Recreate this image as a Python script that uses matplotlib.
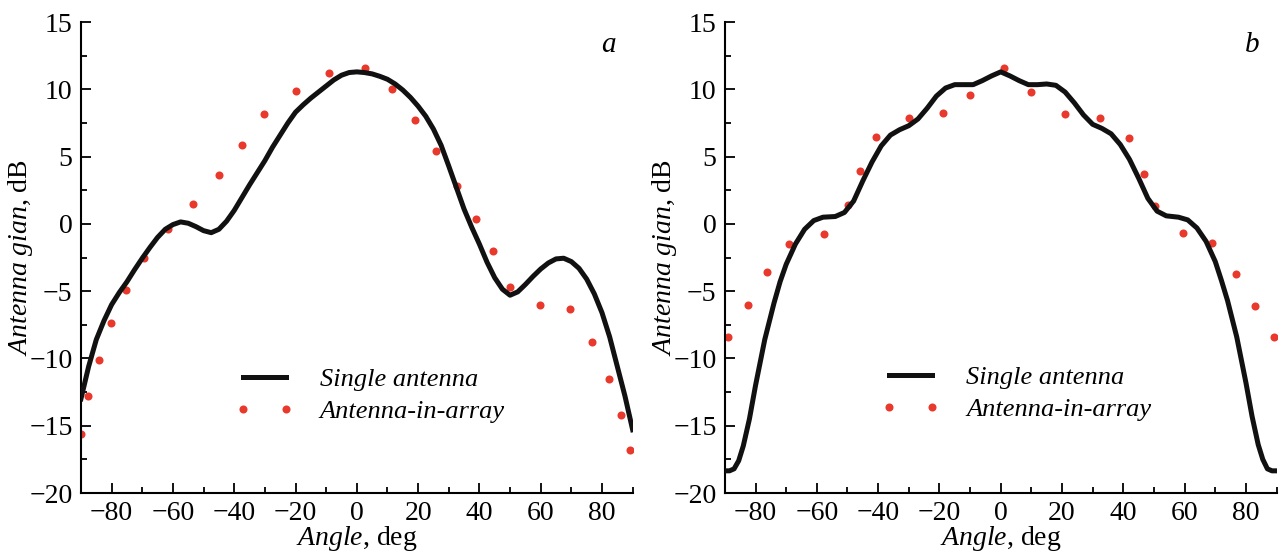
import matplotlib
matplotlib.use("Agg")
import matplotlib.pyplot as plt
from matplotlib.font_manager import FontProperties
from matplotlib.ticker import MultipleLocator

plt.rcParams["font.family"] = ["Liberation Serif", "DejaVu Serif"]
plt.rcParams["mathtext.fontset"] = "custom"
plt.rcParams["mathtext.rm"] = "Liberation Serif"
plt.rcParams["mathtext.it"] = "Liberation Serif:italic"

# panel a: single antenna (solid)
a_single_x = [-90, -87.5, -85, -82.5, -80, -77.5, -75, -72.5, -70, -67.5, -65, -62.5, -60, -57.5,
              -55, -52.5, -50, -47.5, -45, -42.5, -40, -37.5, -35, -32.5, -30, -27.5, -25, -22.5,
              -20, -17.5, -15, -12.5, -10, -7.5, -5, -2.5, 0, 2.5, 5, 7.5, 10, 12.5, 15, 17.5,
              20, 22.5, 25, 27.5, 30, 32.5, 35, 37.5, 40, 42.5, 45, 47.5, 50, 52.5, 55, 57.5,
              60, 62.5, 65, 67.5, 70, 72.5, 75, 77.5, 80, 82.5, 85, 87.5, 90]
a_single_y = [-13.0, -10.6, -8.6, -7.2, -6.0, -5.1, -4.3, -3.4, -2.55, -1.75, -1.0, -0.4, -0.05, 0.15,
              0.05, -0.2, -0.5, -0.65, -0.4, 0.2, 1.0, 1.95, 2.9, 3.8, 4.7, 5.7, 6.6, 7.5,
              8.3, 8.85, 9.35, 9.8, 10.25, 10.7, 11.05, 11.25, 11.3, 11.25, 11.15, 10.97, 10.75, 10.4, 9.95, 9.4,
              8.75, 8.0, 7.05, 5.85, 4.3, 2.7, 1.1, -0.25, -1.5, -2.85, -4.0, -4.85, -5.3, -5.05, -4.5, -3.9,
              -3.35, -2.9, -2.6, -2.55, -2.8, -3.3, -4.1, -5.2, -6.6, -8.4, -10.6, -12.8, -15.3]
# panel a: antenna in array (dots)
a_array_x = [-90, -87.8, -84.2, -80.1, -75.2, -69.3, -61.5, -53.3, -44.8, -37.4, -30.4, -19.9, -9.0, 2.6,
             11.5, 18.9, 25.8, 32.6, 38.9, 44.5, 50.0, 59.8, 69.4, 76.9, 82.2, 86.2, 89.2]
a_array_y = [-15.6, -12.8, -10.1, -7.4, -4.9, -2.5, -0.4, 1.5, 3.6, 5.9, 8.2, 9.9, 11.2, 11.6,
             10.0, 7.7, 5.4, 2.8, 0.4, -2.0, -4.7, -6.0, -6.35, -8.8, -11.5, -14.2, -16.8]

# panel b
b_single_x = [-90, -88.5, -87, -85.5, -84, -82, -80, -77, -74, -72, -70, -67, -64, -61, -58, -54,
              -51, -48, -45, -42, -39, -36, -33, -30, -27, -24, -21, -18, -15, -12, -9, -6, -3, 0,
              3, 6, 9, 12, 15, 18, 21, 24, 27, 30, 33, 36, 39, 42, 45, 48, 51, 54, 58,
              61, 64, 67, 70, 72, 74, 77, 80, 82, 84, 85.5, 87, 88.5, 90]
b_single_y = [-18.35, -18.35, -18.2, -17.6, -16.5, -14.5, -12.0, -8.6, -5.9, -4.3, -3.0, -1.5, -0.4, 0.25, 0.5, 0.55,
              0.85, 1.7, 3.2, 4.6, 5.8, 6.6, 7.0, 7.3, 7.8, 8.6, 9.5, 10.1, 10.35, 10.35, 10.35, 10.65, 11.0, 11.3,
              11.0, 10.65, 10.35, 10.35, 10.4, 10.3, 9.8, 9.0, 8.1, 7.4, 7.1, 6.7, 5.9, 4.8, 3.4, 1.9, 0.95, 0.6, 0.5,
              0.3, -0.3, -1.3, -2.8, -4.2, -5.7, -8.4, -11.8, -14.3, -16.4, -17.5, -18.2, -18.35, -18.35]
b_array_x = [-88.9, -82.4, -76.2, -69.1, -57.6, -49.8, -45.8, -40.8, -29.9, -18.8, -10.1, 1.1,
             10.0, 20.9, 32.5, 41.8, 46.7, 50.4, 59.5, 68.8, 76.8, 83.1, 89.1]
b_array_y = [-8.4, -6.0, -3.6, -1.5, -0.75, 1.4, 3.95, 6.45, 7.9, 8.25, 9.6, 11.6,
             9.8, 8.2, 7.9, 6.4, 3.7, 1.3, -0.7, -1.4, -3.7, -6.1, -8.4]

panels = [
    ("a", a_single_x, a_single_y, a_array_x, a_array_y, 0.0631, (0.28, 0.208)),
    ("b", b_single_x, b_single_y, b_array_x, b_array_y, 0.565, (0.284, 0.212)),
]

fig = plt.figure(figsize=(12.83, 5.59), dpi=100)
leg_font = FontProperties(family="Liberation Serif", style="italic", size=19)

for tag, sx, sy, dx, dy, left, leg_pos in panels:
    ax = fig.add_axes([left, 0.118, 0.4300, 0.8425])
    ax.plot(dx, dy, linestyle="none", marker="o", ms=5.8, color="#e8392c",
            markeredgewidth=0, label="Antenna-in-array", zorder=2)
    ax.plot(sx, sy, color="#111111", lw=3.6, label="Single antenna", zorder=3,
            solid_joinstyle="round")
    ax.set_xlim(-90, 90)
    ax.set_ylim(-20, 15)
    ax.xaxis.set_major_locator(MultipleLocator(20))
    ax.xaxis.set_minor_locator(MultipleLocator(10))
    ax.yaxis.set_major_locator(MultipleLocator(5))
    ax.yaxis.set_minor_locator(MultipleLocator(2.5))
    for s in ("top", "right"):
        ax.spines[s].set_visible(False)
    for s in ("left", "bottom"):
        ax.spines[s].set_linewidth(1.5)
    ax.tick_params(which="major", direction="in", length=7, width=1.3, labelsize=20, pad=6)
    ax.tick_params(which="minor", direction="in", length=4.5, width=1.3)
    ax.set_xlabel(r"$\mathit{Angle}$, deg", fontsize=20)
    ax.set_ylabel(r"$\mathit{Antenna\ gian}$, dB", fontsize=20)
    ax.yaxis.set_label_coords(-0.083, 0.5)
    ax.xaxis.set_label_coords(0.5, -0.066)
    ax.text(0.956, 0.951, tag, transform=ax.transAxes, fontsize=21, style="italic",
            ha="center", va="center")
    handles, labels = ax.get_legend_handles_labels()
    ax.legend(handles[::-1], labels[::-1], loc="center left", bbox_to_anchor=leg_pos,
              frameon=False, prop=leg_font, borderpad=0, borderaxespad=0,
              handlelength=2.2, handletextpad=1.0, labelspacing=0.32, numpoints=2)

fig.savefig("out.png", dpi=100)
